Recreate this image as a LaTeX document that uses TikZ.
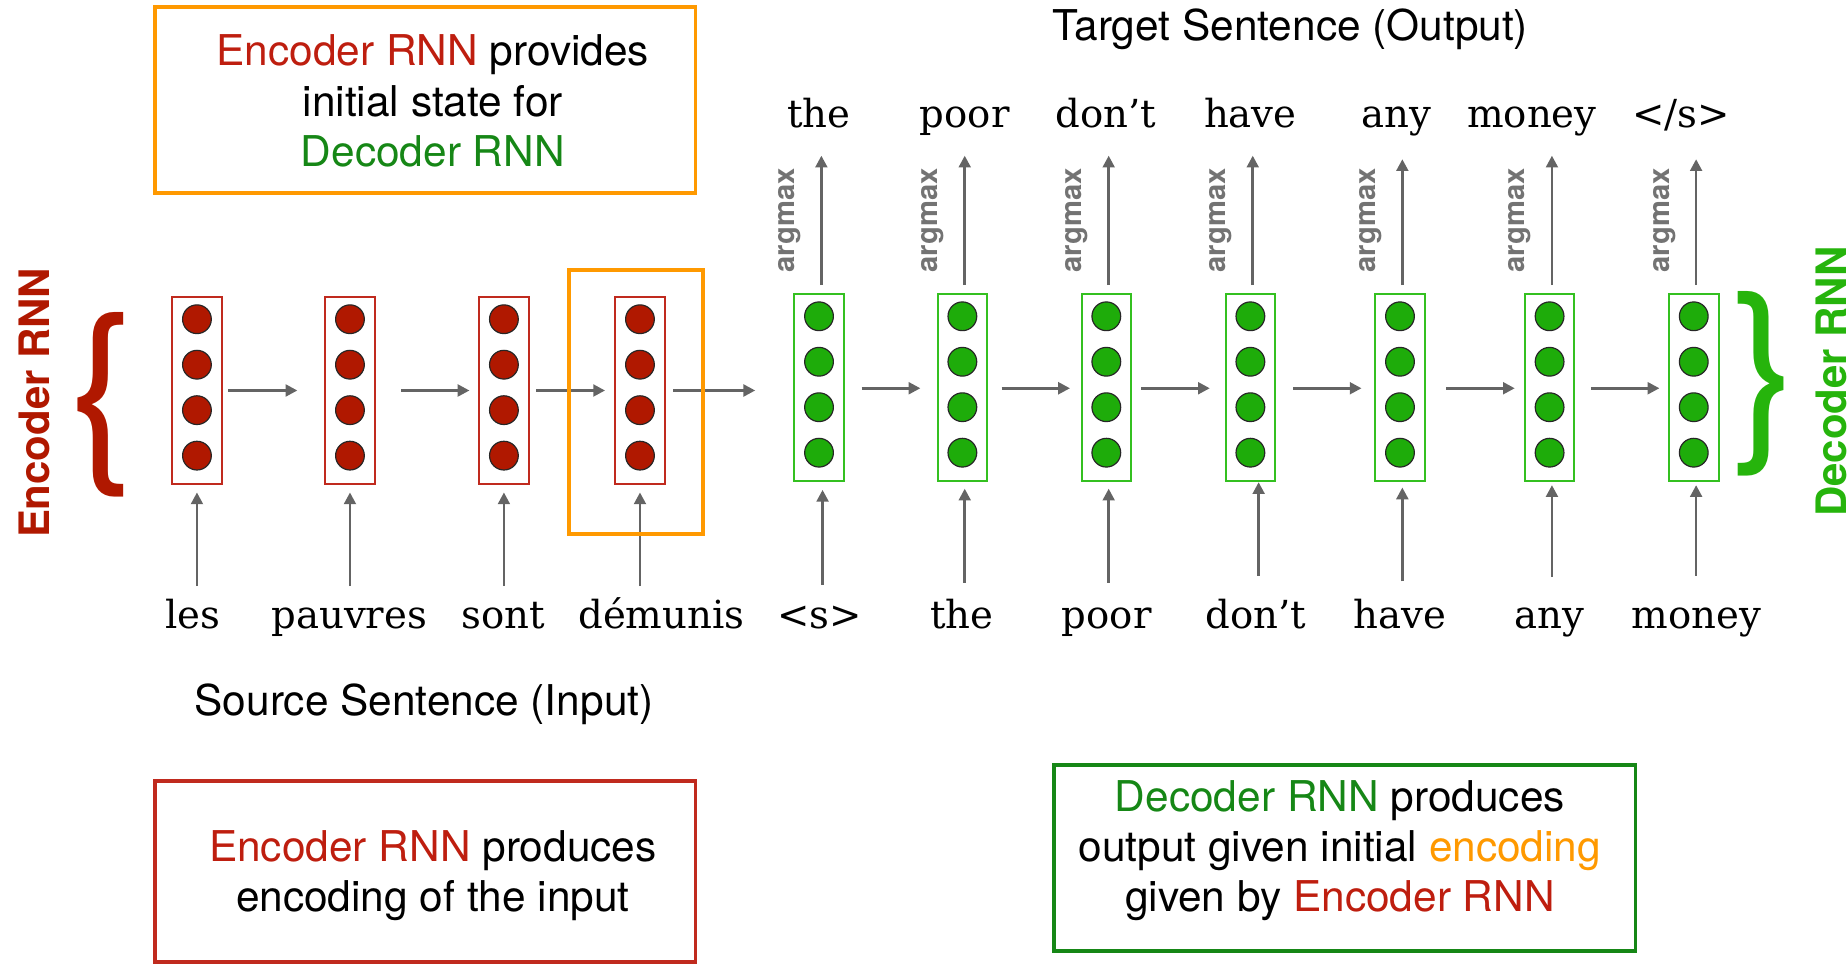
\documentclass[tikz,border=0pt]{standalone}
\usepackage{fontspec}
\setmainfont{TeX Gyre Heros}
\newfontfamily\wordfont{DejaVu Serif}
\usetikzlibrary{arrows.meta,calc}

\definecolor{encfill}{RGB}{176,24,0}
\definecolor{encline}{RGB}{192,42,30}
\definecolor{enctext}{RGB}{190,30,15}
\definecolor{decfill}{RGB}{30,172,10}
\definecolor{decline}{RGB}{52,192,32}
\definecolor{dectext}{RGB}{22,135,22}
\definecolor{declabel}{RGB}{38,180,12}
\definecolor{orangeC}{RGB}{255,153,0}
\definecolor{arrowgray}{RGB}{100,100,100}
\definecolor{labelgray}{RGB}{115,115,115}

\tikzset{
  cellbox/.style={draw, line width=0.85pt, minimum width=21pt, minimum height=79pt, inner sep=0pt, fill=white},
  enccell/.style={cellbox, draw=encline},
  deccell/.style={cellbox, draw=decline},
  unit/.style={circle, draw=black!85, line width=0.5pt, minimum size=12.2pt, inner sep=0pt},
  encunit/.style={unit, fill=encfill},
  decunit/.style={unit, fill=decfill},
  arr/.style={draw=arrowgray, line width=1.15pt, -{Triangle[length=5pt,width=5pt]}},
  word/.style={font=\wordfont\fontsize{16.4}{18}\selectfont, anchor=base, inner sep=0pt},
  line/.style={font=\fontsize{18}{21.5}\selectfont, anchor=base, inner sep=0pt},
  argm/.style={rotate=90, font=\bfseries\fontsize{12.4}{14}\selectfont, text=labelgray, inner sep=0pt},
  sidelabel/.style={rotate=90, font=\bfseries\fontsize{17.8}{20}\selectfont, inner sep=0pt},
  frame/.style={line width=1.6pt, inner sep=0pt},
  bigbrace/.style={font=\fontsize{83.3}{90}\selectfont, inner sep=0pt, anchor=base west}
}

\begin{document}
\begin{tikzpicture}[x=0.5pt, y=-0.5pt]
\useasboundingbox (0,0) rectangle (1568,820);

% ---- explanation boxes ----
\node[frame, draw=orangeC, minimum width=229.5pt, minimum height=78.8pt] (initbox) at (361,84.8) {};
\node[line] (ib1) at (367.5,56) {\textcolor{enctext}{Encoder RNN} provides};
\node[line] (ib2) at (367.5,98.5) {initial state for};
\node[line] (ib3) at (367.5,141) {\textcolor{dectext}{Decoder RNN}};

\node[frame, draw=encline, minimum width=229.5pt, minimum height=77pt] (encbox) at (361,739.8) {};
\node[line] (eb1) at (367.5,731.5) {\textcolor{enctext}{Encoder RNN} produces};
\node[line] (eb2) at (367.5,774) {encoding of the input};

\node[frame, draw=dectext, minimum width=247pt, minimum height=79pt] (decbox) at (1141.5,728.5) {};
\node[line] (db1) at (1137.5,689) {\textcolor{dectext}{Decoder RNN} produces};
\node[line] (db2) at (1137.5,731.5) {output given initial \textcolor{orangeC}{encoding}};
\node[line] (db3) at (1137.5,774) {given by \textcolor{enctext}{Encoder RNN}};

% ---- sentence titles ----
\node[line] (tgt) at (1095.5,34) {Target Sentence (Output)};
\node[line] (src) at (360,607) {Source Sentence (Input)};

% ---- encoder cells ----
\foreach \i/\x in {1/167.2,2/297.1,3/427.8,4/543.3}{
  \node[enccell] (e\i) at (\x,331.5) {};
  \foreach \k/\d in {1/-60.5,2/-21.9,3/16.7,4/55.3}
    \node[encunit] (e\i-\k) at (\x,331.5+\d) {};
}

% ---- decoder cells ----
\foreach \i/\x in {1/695.3,2/817,3/939.2,4/1061.5,5/1188.5,6/1315.5,7/1437.9}{
  \node[deccell] (d\i) at (\x,329) {};
  \foreach \k/\d in {1/-60.5,2/-21.9,3/16.7,4/55.3}
    \node[decunit] (d\i-\k) at (\x,329+\d) {};
}

% ---- recurrent connections ----
\draw[arr] ([xshift=2.3pt]e1.east) -- ++(58.8,0);
\draw[arr] ([xshift=10.9pt]e2.east) -- ++(57.8,0);
\draw[arr] ([xshift=2.9pt]e3.east) -- ++(58.2,0);
\draw[arr] ([xshift=3.1pt]e4.east) -- ++(69.8,0);
\draw[arr] ([xshift=7.2pt,yshift=-0.3pt]d1.east) -- ++(49.8,0);
\draw[arr] ([xshift=5.75pt,yshift=-0.3pt]d2.east) -- ++(58,0);
\draw[arr] ([xshift=3.95pt,yshift=-0.3pt]d3.east) -- ++(58.1,0);
\draw[arr] ([xshift=7.25pt,yshift=-0.3pt]d4.east) -- ++(58,0);
\draw[arr] ([xshift=8.75pt,yshift=-0.3pt]d5.east) -- ++(58.1,0);
\draw[arr] ([xshift=6.65pt,yshift=-0.3pt]d6.east) -- ++(58.1,0);

% ---- inputs ----
\foreach \i in {1,2,3,4}
  \draw[arr] ([yshift=-43.1pt]e\i.south) -- ++(0,-79.5);
\foreach \i/\dx/\yb/\yt in {1/3/496.6/416,2/2/495/415,3/2/495/415,4/7/489/409.5,5/2/493.8/414,6/2/490/412,7/2/489/412}
  \draw[arr] ($(d\i.south)+(\dx,\yb-409)$) -- ($(d\i.south)+(\dx,\yt-409)$);

% ---- outputs ----
\foreach \i/\t in {1/117,2/117,3/117,4/117,5/114,6/117,7/114}{
  \draw[arr] ($(d\i.north)+(2,-7)$) -- ($(d\i.north)+(2,-\t)$);
  \node[argm] (am\i) at ($(d\i.north)+(-25,-62)$) {argmax};
}

% ---- words ----
\node[word] (o1) at (695,108) {the};
\node[word] (o2) at (819,108) {poor};
\node[word] (o3) at (939,108) {don’t};
\node[word] (o4) at (1061.5,108) {have};
\node[word] (o5) at (1185.5,108) {any};
\node[word] (o6) at (1300.5,108) {money};
\node[word] (o7) at (1427,108) {</s>};

\node[word] (w1) at (163.5,533.4) {les};
\node[word] (w2) at (296.5,533.4) {pauvres};
\node[word] (w3) at (427.5,533.4) {sont};
\node[word] (w4) at (561.5,533.4) {démunis};
\node[word] (w5) at (696,533.4) {<s>};
\node[word] (w6) at (816.5,533.4) {the};
\node[word] (w7) at (939.5,533.4) {poor};
\node[word] (w8) at (1066,533.4) {don’t};
\node[word] (w9) at (1188.5,533.4) {have};
\node[word] (w10) at (1315.5,533.4) {any};
\node[word] (w11) at (1440,533.4) {money};

% ---- final encoder state highlight ----
\node[frame, draw=orangeC, minimum width=57pt, minimum height=112pt] (lasthl) at (540.1,341.5) {};

% ---- side braces and labels ----
\node[bigbrace, text=encfill] (encbrace) at (58.5,386.3) {\{};
\node[sidelabel, text=encfill] (enclabel) at (29,342) {Encoder RNN};

\node[bigbrace, text=declabel] (decbrace) at (1470,369.1) {\}};
\node[sidelabel, text=declabel] (declab) at (1554.5,324) {Decoder RNN};
\end{tikzpicture}
\end{document}
